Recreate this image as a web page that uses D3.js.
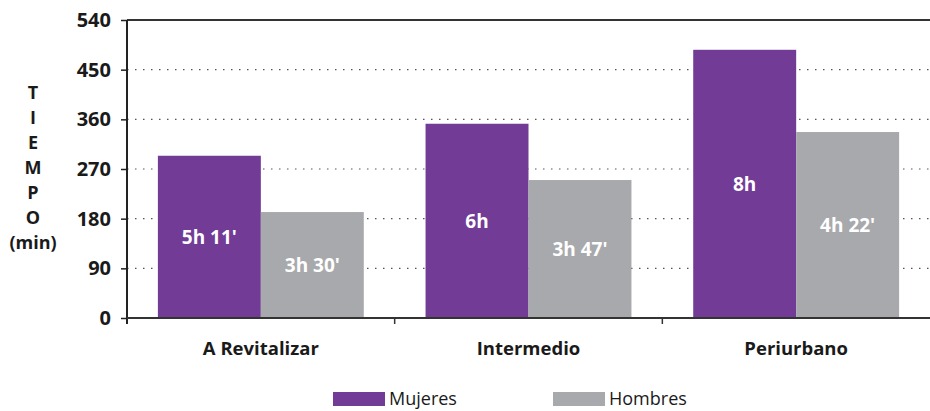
<!DOCTYPE html>
<html>
<head>
<meta charset="utf-8">
<script src="https://cdn.jsdelivr.net/npm/d3@7"></script>
<style>
  body { margin: 0; background: #fff; }
  svg text { font-family: "Open Sans", "DejaVu Sans", sans-serif; }
</style>
</head>
<body>
<div id="chart"></div>
<script>
// data
var categories = ["A Revitalizar", "Intermedio", "Periurbano"];
var series = ["Mujeres", "Hombres"];
var mujeres = [294, 352, 486];
var hombres = [192, 250, 337];
var mujeresLabels = ["5h 11'", "6h", "8h"];
var hombresLabels = ["3h 30'", "3h 47'", "4h 22'"];
var yTicks = [0, 90, 180, 270, 360, 450, 540];
var titleLetters = ["T", "I", "E", "M", "P", "O", "(min)"];

var colors = {Mujeres: "#713b96", Hombres: "#a8a9ac"};
var W = 930, H = 411;
var margin = {top: 20, right: 0, bottom: 93, left: 127};

var svg = d3.select("#chart").append("svg")
  .attr("width", W)
  .attr("height", H);

var x0 = d3.scaleBand()
  .domain(categories)
  .range([margin.left, W - margin.right]);

var x1 = d3.scaleBand()
  .domain(series)
  .range([0, x0.bandwidth()])
  .paddingOuter(0.3);

var y = d3.scaleLinear()
  .domain([0, 540])
  .range([H - margin.bottom, margin.top]);

// dotted grid
svg.append("g").selectAll("line")
  .data(yTicks.filter(function(d){ return d > 0 && d < 540; }))
  .enter().append("line")
  .attr("x1", margin.left).attr("x2", W)
  .attr("y1", function(d){ return y(d); })
  .attr("y2", function(d){ return y(d); })
  .attr("stroke", "#555")
  .attr("stroke-width", 1.2)
  .attr("stroke-dasharray", "1.5,6.5");

// top line
svg.append("line")
  .attr("x1", margin.left).attr("x2", W)
  .attr("y1", y(540)).attr("y2", y(540))
  .attr("stroke", "#333").attr("stroke-width", 2);

// bars
var rows = categories.map(function(c, i){
  return {cat: c, vals: [
    {s: "Mujeres", v: mujeres[i], lab: mujeresLabels[i]},
    {s: "Hombres", v: hombres[i], lab: hombresLabels[i]}
  ]};
});

var groups = svg.append("g").selectAll("g")
  .data(rows)
  .enter().append("g")
  .attr("transform", function(d){ return "translate(" + x0(d.cat) + ",0)"; });

groups.selectAll("rect")
  .data(function(d){ return d.vals; })
  .enter().append("rect")
  .attr("x", function(d){ return x1(d.s); })
  .attr("width", x1.bandwidth())
  .attr("y", function(d){ return y(d.v); })
  .attr("height", function(d){ return y(0) - y(d.v); })
  .attr("fill", function(d){ return colors[d.s]; });

groups.selectAll("text")
  .data(function(d){ return d.vals; })
  .enter().append("text")
  .attr("x", function(d){ return x1(d.s) + x1.bandwidth() / 2; })
  .attr("y", function(d){ return (y(d.v) + y(0)) / 2; })
  .attr("dy", "0.35em")
  .attr("text-anchor", "middle")
  .attr("fill", "#fff")
  .attr("font-weight", "bold")
  .attr("font-size", "19px")
  .text(function(d){ return d.lab; });

// y axis
var yAxis = svg.append("g")
  .attr("transform", "translate(" + margin.left + ",0)")
  .call(d3.axisLeft(y).tickValues(yTicks).tickSize(6).tickPadding(10));
yAxis.select(".domain").attr("stroke", "#222").attr("stroke-width", 2)
  .attr("d", "M0," + y(540) + "V" + (y(0) + 6));
yAxis.selectAll(".tick line").attr("stroke", "#222").attr("stroke-width", 1.5);
yAxis.selectAll(".tick text")
  .attr("font-size", "20px").attr("font-weight", "bold").attr("fill", "#1a1a1a");

// x axis
var xAxis = svg.append("g")
  .attr("transform", "translate(0," + y(0) + ")");
xAxis.append("line")
  .attr("x1", margin.left).attr("x2", W)
  .attr("stroke", "#333").attr("stroke-width", 2);
xAxis.selectAll(".xt")
  .data(categories.slice(1))
  .enter().append("line")
  .attr("x1", function(d){ return x0(d); })
  .attr("x2", function(d){ return x0(d); })
  .attr("y1", 0).attr("y2", 6)
  .attr("stroke", "#333").attr("stroke-width", 1.5);
xAxis.selectAll("text")
  .data(categories)
  .enter().append("text")
  .attr("x", function(d){ return x0(d) + x0.bandwidth() / 2; })
  .attr("y", 37)
  .attr("text-anchor", "middle")
  .attr("font-size", "18.5px")
  .attr("font-weight", "bold")
  .attr("fill", "#1a1a1a")
  .text(function(d){ return d; });

// y title, stacked letters
svg.append("g").selectAll("text")
  .data(titleLetters)
  .enter().append("text")
  .attr("x", 33)
  .attr("y", function(d, i){ return 99 + i * 25; })
  .attr("text-anchor", "middle")
  .attr("font-size", "18px")
  .attr("font-weight", "bold")
  .attr("fill", "#1a1a1a")
  .text(function(d){ return d; });

// legend
var legend = svg.append("g").selectAll("g")
  .data(series)
  .enter().append("g")
  .attr("transform", function(d, i){ return "translate(" + (333 + i * 220) + ",392)"; });
legend.append("rect")
  .attr("width", 52).attr("height", 14)
  .attr("fill", function(d){ return colors[d]; });
legend.append("text")
  .attr("x", 56).attr("y", 13)
  .attr("font-size", "18px")
  .attr("fill", "#1a1a1a")
  .text(function(d){ return d; });
</script>
</body>
</html>
